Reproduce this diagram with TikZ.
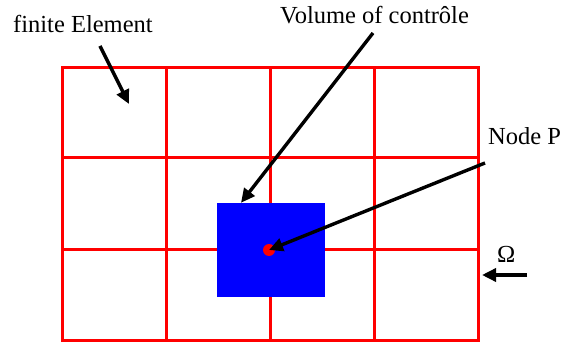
\documentclass[tikz,border=0pt]{standalone}
\usepackage{fontspec}
\setmainfont{Liberation Serif}
\usetikzlibrary{arrows.meta}
\begin{document}
\begin{tikzpicture}[x=1pt,y=-1pt,
  gridline/.style={draw=red,line width=3pt},
  pointer/.style={draw=black,line width=3.4pt,-{Triangle[length=14pt,width=13pt]}},
  lbl/.style={font=\fontsize{24.5}{27}\selectfont,inner sep=0pt,anchor=base west}]
\useasboundingbox[fill=white] (0,0) rectangle (568,347);
% grid
\foreach \x in {62,166,270,374,478} \draw[gridline] (\x,68) -- (\x,341);
\foreach \y in {68,158,250,341} \draw[gridline] (62,\y) -- (478,\y);
\draw[gridline,line cap=rect] (62,68) rectangle (478,341);
% control volume
\node[fill=blue,minimum width=108pt,minimum height=94pt,inner sep=0pt] (cv) at (271,250) {};
% node P
\node[circle,fill=red,minimum size=12pt,inner sep=0pt] (p) at (269,250) {};
% labels
\node[lbl] (fe) at (13,33) {finite Element};
\node[lbl] (vc) at (280,24) {Volume of contrôle};
\node[lbl] (np) at (488,145) {Node P};
\node[lbl] (om) at (497,263) {Ω};
% arrows
\coordinate (fes) at (100,46);
\coordinate (fee) at (129,104);
\draw[pointer] (fes) -- (fee);
\coordinate (vcs) at (373,33);
\draw[pointer] (vcs) -- (cv.north west -| 241,0) ;
\coordinate (nps) at (485,163);
\draw[pointer] (nps) -- (p.center);
\coordinate (oms) at (527,275);
\coordinate (ome) at (482,275);
\draw[pointer] (oms) -- (ome);
\end{tikzpicture}
\end{document}
